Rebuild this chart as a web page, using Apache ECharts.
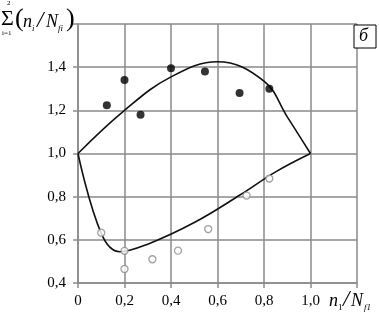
<!DOCTYPE html>
<html>
<head>
<meta charset="utf-8">
<script src="https://cdn.jsdelivr.net/npm/echarts@6/dist/echarts.min.js"></script>
<style>
html, body { margin: 0; padding: 0; background: #fff; }
#chart { width: 379px; height: 314px; }
</style>
</head>
<body>
<div id="chart"></div>
<script>
var myChart = echarts.init(document.getElementById("chart"));

// upper boundary curve
var upperX = [0, 0.2, 0.4, 0.6, 0.8, 0.9, 1.0];
var upperY = [1.0, 1.2, 1.355, 1.425, 1.335, 1.17, 1.0];
// lower boundary curve
var lowerX = [0, 0.1, 0.18, 0.3, 0.5, 0.7, 0.85, 1.0];
var lowerY = [1.0, 0.63, 0.545, 0.58, 0.68, 0.81, 0.915, 1.0];
// filled points
var filledX = [0.124, 0.2, 0.269, 0.4, 0.546, 0.695, 0.823];
var filledY = [1.223, 1.34, 1.18, 1.395, 1.38, 1.28, 1.30];
// open points
var openX = [0.10, 0.2, 0.2, 0.32, 0.43, 0.56, 0.725, 0.823];
var openY = [0.633, 0.549, 0.465, 0.51, 0.55, 0.65, 0.805, 0.884];

function pairs(xs, ys) {
    return xs.map(function (x, i) { return [x, ys[i]]; });
}

var font = "Liberation Serif";
var gridColor = "#8a8a8a";

function tickText(v, max) {
    if (Math.abs(v - max) < 1e-6) return "";
    if (Math.abs(v) < 1e-6) return "0";
    return v.toFixed(1).replace(".", ",");
}

var option = {
    backgroundColor: "#fff",
    animation: false,
    grid: { left: 78, right: 22, top: 24, bottom: 31 },
    xAxis: {
        type: "value",
        min: 0,
        max: 1.2,
        interval: 0.2,
        axisLine: { show: true, lineStyle: { color: gridColor, width: 1.5 } },
        axisTick: { show: true, length: 5, lineStyle: { color: gridColor, width: 1.5 } },
        splitLine: { show: true, lineStyle: { color: gridColor, width: 1.5 } },
        axisLabel: {
            margin: 11,
            color: "#000",
            fontFamily: font,
            fontSize: 15,
            formatter: function (v) { return tickText(v, 1.2); }
        }
    },
    yAxis: {
        type: "value",
        min: 0.4,
        max: 1.6,
        interval: 0.2,
        axisLine: { show: true, lineStyle: { color: gridColor, width: 1.5 } },
        axisTick: { show: true, length: 5, lineStyle: { color: gridColor, width: 1.5 } },
        splitLine: { show: true, lineStyle: { color: gridColor, width: 1.5 } },
        axisLabel: {
            margin: 12,
            color: "#000",
            fontFamily: font,
            fontSize: 15,
            formatter: function (v) { return tickText(v, 1.6); }
        }
    },
    series: [
        {
            type: "line",
            data: pairs(upperX, upperY),
            smooth: 0.4,
            symbol: "none",
            lineStyle: { color: "#111", width: 1.6 },
            z: 3
        },
        {
            type: "line",
            data: pairs(lowerX, lowerY),
            smooth: 0.4,
            symbol: "none",
            lineStyle: { color: "#111", width: 1.6 },
            z: 3
        },
        {
            type: "scatter",
            data: pairs(filledX, filledY),
            symbol: "circle",
            symbolSize: 8,
            itemStyle: { color: "#000" },
            z: 4
        },
        {
            type: "scatter",
            data: pairs(openX, openY),
            symbol: "circle",
            symbolSize: 7,
            itemStyle: { color: "#fff", borderColor: "#8a8a8a", borderWidth: 1.3 },
            z: 4
        }
    ],
    graphic: [
        // y axis title
        { type: "text", left: 1, top: 8, style: { text: "Σ", font: "22px " + font, fill: "#000" } },
        { type: "text", left: 7, top: 0, style: { text: "2", font: "7px " + font, fill: "#000" } },
        { type: "text", left: 2, top: 30, style: { text: "i=1", font: "7px " + font, fill: "#000" } },
        { type: "text", left: 15, top: 6, style: { text: "(", font: "26px " + font, fill: "#000" } },
        { type: "text", left: 23, top: 13, style: { text: "n", font: "italic 18px " + font, fill: "#000" } },
        { type: "text", left: 32, top: 24, style: { text: "i", font: "italic 9px " + font, fill: "#000" } },
        { type: "text", left: 37, top: 9, style: { text: "/", font: "italic 23px " + font, fill: "#000" } },
        { type: "text", left: 46, top: 13, style: { text: "N", font: "italic 18px " + font, fill: "#000" } },
        { type: "text", left: 58, top: 24, style: { text: "fi", font: "italic 9px " + font, fill: "#000" } },
        { type: "text", left: 66, top: 6, style: { text: ")", font: "26px " + font, fill: "#000" } },
        // x axis title
        { type: "text", left: 329, top: 292, style: { text: "n", font: "italic 18px " + font, fill: "#000" } },
        { type: "text", left: 338, top: 303, style: { text: "1", font: "9px " + font, fill: "#000" } },
        { type: "text", left: 343, top: 288, style: { text: "/", font: "italic 23px " + font, fill: "#000" } },
        { type: "text", left: 351, top: 292, style: { text: "N", font: "italic 18px " + font, fill: "#000" } },
        { type: "text", left: 364, top: 303, style: { text: "f1", font: "italic 9px " + font, fill: "#000" } },
        // panel label
        {
            type: "rect",
            shape: { x: 354, y: 25, width: 22, height: 23 },
            style: { fill: "#fff", stroke: "#000", lineWidth: 1 },
            z: 10
        },
        { type: "text", left: 359, top: 27, z: 11, style: { text: "б", font: "italic 18px " + font, fill: "#000" } }
    ]
};

myChart.setOption(option);
</script>
</body>
</html>
